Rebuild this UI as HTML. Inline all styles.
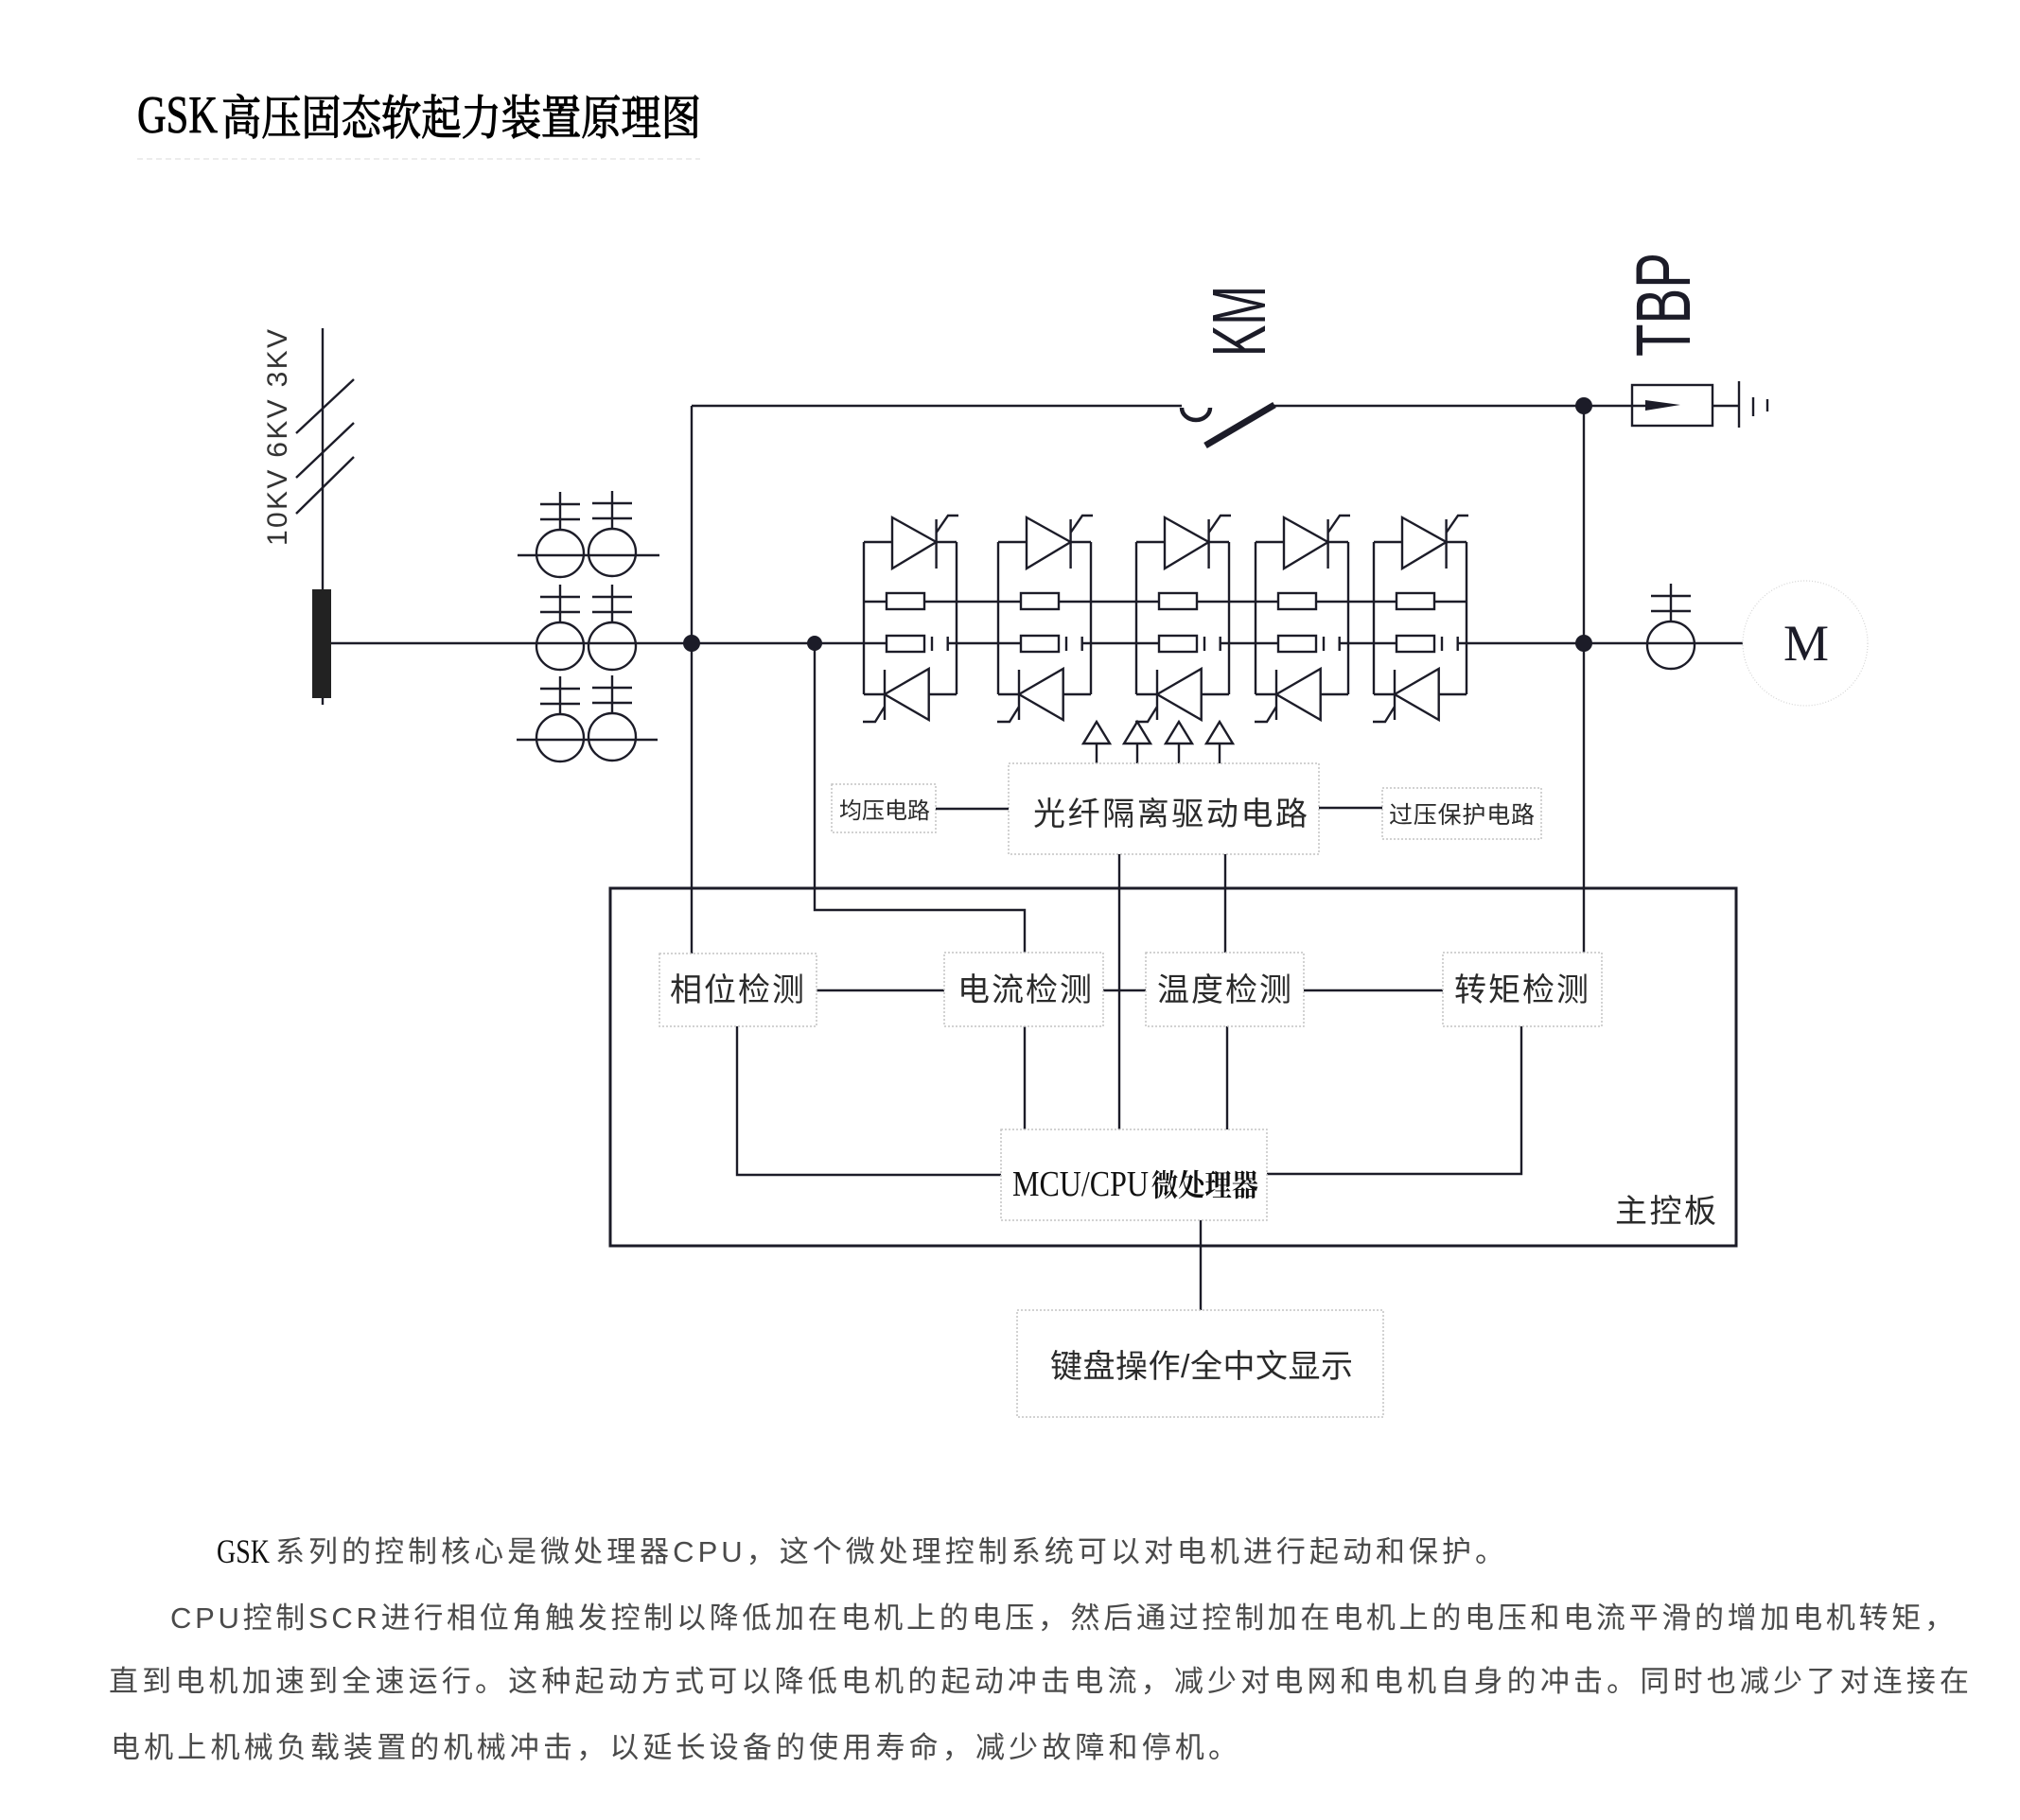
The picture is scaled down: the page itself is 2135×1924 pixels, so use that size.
<!DOCTYPE html>
<html>
<head>
<meta charset="utf-8">
<style>
html,body{margin:0;padding:0;background:#fff;}
svg{display:block;}
.ln{stroke:#1c1c28;stroke-width:2.4;fill:none;}
.bx{stroke:#c4c4c4;stroke-width:1.5;fill:#fff;stroke-dasharray:2 2;}
.cj{font-family:"Liberation Sans","Noto Sans CJK SC",sans-serif;fill:#2a2a2a;}
.pg{font-family:"Liberation Sans","Noto Sans CJK SC",sans-serif;fill:#4a4a4a;font-size:31px;}
</style>
</head>
<body>
<svg width="2135" height="1924" viewBox="0 0 2135 1924" xmlns="http://www.w3.org/2000/svg">
<rect x="0" y="0" width="2135" height="1924" fill="#fff"/>
<defs>
  <g id="mod" class="ln">
    <path d="M0,573 V734 M98,573 V734"/>
    <path d="M0,573 H30 M76.6,573 H98 M76.6,549 V601 M76.6,563 L89,545 H100"/>
    <polygon points="30,547 30,601 76.6,573"/>
    <path d="M0,636 H24 M64,636 H98"/>
    <rect x="24" y="627" width="40" height="17" fill="#fff"/>
    <path d="M0,680 H24 M88.7,680 H98 M72,673 V688 M88.7,673 V688"/>
    <rect x="24" y="672" width="40" height="17" fill="#fff"/>
    <path d="M0,734 H22 M68.7,734 H98 M22,708 V761 M22,747 L12,763 H-1"/>
    <polygon points="22,734 68.7,707 68.7,761"/>
  </g>
  <g id="ct" class="ln">
    <path d="M0,-65 V-25 M-21,-52 H21 M-21,-36 H21"/>
    <circle cx="0" cy="0" r="25" fill="none"/>
  </g>
</defs>

<!-- Title -->
<text x="145" y="140" font-family="Liberation Serif, serif" font-size="56" textLength="85" lengthAdjust="spacingAndGlyphs" fill="#000" stroke="#000" stroke-width="0.8">GSK</text>
<text x="234" y="142" font-family="Liberation Serif, 'Noto Serif CJK SC', serif" font-size="50" textLength="507" lengthAdjust="spacingAndGlyphs" fill="#000" stroke="#000" stroke-width="1.2">高压固态软起力装置原理图</text>
<line x1="145" y1="168" x2="740" y2="168" stroke="#ececec" stroke-width="2" stroke-dasharray="6 4"/>

<!-- Supply -->
<text transform="translate(303,577) rotate(-90)" font-family="Liberation Sans, sans-serif" font-size="30" textLength="229" fill="#333">10KV 6KV 3KV</text>
<g class="ln">
  <path d="M341,347 V745"/>
  <path d="M313,458 L374,401 M313,505 L374,447 M313,543 L374,483"/>
</g>
<rect x="330" y="623" width="20" height="115" fill="#222"/>

<!-- Main line -->
<g class="ln">
  <path d="M350,680 H913"/>
  <path d="M547,587 H697 M546,782 H695"/>
  <path d="M1011,636 H1055 M1153,636 H1201 M1299,636 H1327 M1425,636 H1452"/>
  <path d="M1011,680 H1055 M1153,680 H1201 M1299,680 H1327 M1425,680 H1452"/>
  <path d="M1550,680 H1842"/>
</g>

<!-- Transformers -->
<use href="#ct" x="592" y="585"/>
<use href="#ct" x="647" y="584"/>
<use href="#ct" x="592" y="683"/>
<use href="#ct" x="647" y="683"/>
<use href="#ct" x="592" y="780"/>
<use href="#ct" x="647" y="779"/>

<!-- Thyristor modules -->
<use href="#mod" x="913" y="0"/>
<use href="#mod" x="1055" y="0"/>
<use href="#mod" x="1201" y="0"/>
<use href="#mod" x="1327" y="0"/>
<use href="#mod" x="1452" y="0"/>

<!-- Nodes and top bypass line -->
<g class="ln">
  <path d="M731,429 V1008"/>
  <path d="M731,429 H1249"/>
  <path d="M1346,429 H1739"/>
  <path d="M1674,429 V1007"/>
  <path d="M861,680 V962 H1083 V1007"/>
</g>
<path d="M1249,431 A15,13 0 0 0 1279,431" stroke="#1c1c28" stroke-width="4.5" fill="none"/>
<line x1="1274" y1="471" x2="1347" y2="428" stroke="#1c1c28" stroke-width="7"/>
<circle cx="731" cy="680" r="9" fill="#1c1c28"/>
<circle cx="861" cy="680" r="8" fill="#1c1c28"/>
<circle cx="1674" cy="429" r="9" fill="#1c1c28"/>
<circle cx="1674" cy="680" r="9" fill="#1c1c28"/>
<text transform="translate(1337,377) rotate(-90)" font-family="Liberation Sans, sans-serif" font-size="80" textLength="75" lengthAdjust="spacingAndGlyphs" fill="#1c1c28">KM</text>

<!-- TBP -->
<text transform="translate(1786,377) rotate(-90)" font-family="Liberation Sans, sans-serif" font-size="82" textLength="110" lengthAdjust="spacingAndGlyphs" fill="#1c1c28">TBP</text>
<g class="ln">
  <rect x="1725" y="407" width="85" height="43"/>
  <path d="M1810,429 H1838 M1838,403 V452 M1853,420 V440 M1868,422 V435"/>
</g>
<polygon points="1739,423 1776,428 1739,434" fill="#1c1c28"/>

<!-- Motor side -->
<use href="#ct" x="1766" y="682"/>
<circle cx="1908" cy="680" r="66" fill="none" stroke="#d4d4d4" stroke-width="1.2" stroke-dasharray="1 2"/>
<text x="1909" y="698" text-anchor="middle" font-family="Liberation Serif, serif" font-size="54" fill="#1c1c28">M</text>

<!-- Drive arrows -->
<g class="ln">
  <polygon points="1159,763 1145,786 1173,786"/>
  <polygon points="1202,763 1188,786 1216,786"/>
  <polygon points="1246,763 1232,786 1260,786"/>
  <polygon points="1289,763 1275,786 1303,786"/>
  <path d="M1159,786 V807 M1202,786 V807 M1246,786 V807 M1289,786 V807"/>
</g>

<!-- Drive boxes -->
<rect class="bx" x="879" y="829" width="110" height="51"/>
<text class="cj" x="887" y="865" font-size="24" textLength="96">均压电路</text>
<rect class="bx" x="1066" y="807" width="328" height="96"/>
<text class="cj" x="1092" y="872" font-size="34" textLength="290">光纤隔离驱动电路</text>
<rect class="bx" x="1461" y="833" width="168" height="54"/>
<text class="cj" x="1468" y="870" font-size="25" textLength="154">过压保护电路</text>
<g class="ln">
  <path d="M989,855 H1066 M1394,854 H1461"/>
  <path d="M1183,903 V1194 M1295,903 V1007"/>
</g>

<!-- Main board -->
<rect x="645" y="939" width="1190" height="378" fill="none" stroke="#1c1c28" stroke-width="3"/>
<g class="ln">
  <path d="M779,1085 V1242 H1058"/>
  <path d="M1083,1085 V1194"/>
  <path d="M1297,1085 V1194"/>
  <path d="M1608,1085 V1241 H1339"/>
  <path d="M863,1047 H998 M1166,1047 H1211 M1378,1047 H1525"/>
  <path d="M1269,1290 V1385"/>
</g>

<rect class="bx" x="697" y="1008" width="166" height="77"/>
<text class="cj" x="708" y="1058" font-size="34" textLength="142">相位检测</text>
<rect class="bx" x="998" y="1007" width="168" height="78"/>
<text class="cj" x="1012" y="1058" font-size="34" textLength="142">电流检测</text>
<rect class="bx" x="1211" y="1007" width="167" height="78"/>
<text class="cj" x="1223" y="1058" font-size="34" textLength="142">温度检测</text>
<rect class="bx" x="1525" y="1007" width="168" height="78"/>
<text class="cj" x="1537" y="1058" font-size="34" textLength="142">转矩检测</text>

<rect class="bx" x="1058" y="1194" width="281" height="96"/>
<text x="1070" y="1264" font-family="Liberation Serif, serif" font-size="38" textLength="144" lengthAdjust="spacingAndGlyphs" fill="#111">MCU/CPU</text>
<text x="1217" y="1264" font-family="Liberation Serif, 'Noto Serif CJK SC', serif" font-size="32" font-weight="bold" textLength="113" lengthAdjust="spacingAndGlyphs" fill="#111">微处理器</text>

<text class="cj" x="1707" y="1292" font-size="34" textLength="107">主控板</text>

<rect class="bx" x="1075" y="1385" width="387" height="113"/>
<text class="cj" x="1110" y="1456" font-size="34" textLength="320">键盘操作/全中文显示</text>

<!-- Paragraph -->
<text x="229" y="1652" font-family="Liberation Serif, serif" font-size="36" textLength="56" lengthAdjust="spacingAndGlyphs" fill="#111">GSK</text>
<text class="pg" x="291" y="1651" textLength="1299">系列的控制核心是微处理器CPU，这个微处理控制系统可以对电机进行起动和保护。</text>
<text class="pg" x="180" y="1721" textLength="1885">CPU控制SCR进行相位角触发控制以降低加在电机上的电压，然后通过控制加在电机上的电压和电流平滑的增加电机转矩，</text>
<text class="pg" x="115" y="1788" textLength="1966">直到电机加速到全速运行。这种起动方式可以降低电机的起动冲击电流，减少对电网和电机自身的冲击。同时也减少了对连接在</text>
<text class="pg" x="117" y="1858" textLength="1191">电机上机械负载装置的机械冲击，以延长设备的使用寿命，减少故障和停机。</text>
</svg>
</body>
</html>
